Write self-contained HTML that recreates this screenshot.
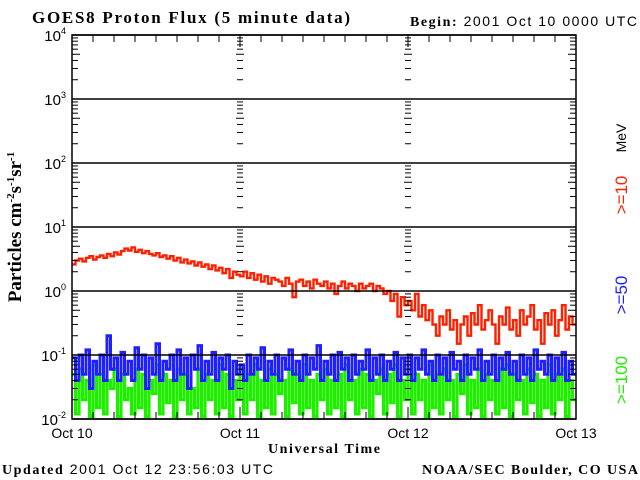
<!DOCTYPE html>
<html><head><meta charset="utf-8"><style>
body{margin:0;background:#fff;}
svg{display:block;font-family:"Liberation Sans",sans-serif;}
.serif{font-family:"Liberation Serif",serif;font-weight:bold;}
</style></head><body>
<svg id="c" width="640" height="480" viewBox="0 0 640 480">
<text class="serif" x="32" y="23" font-size="17" textLength="318" lengthAdjust="spacing">GOES8 Proton Flux (5 minute data)</text>
<text x="410" y="26" font-size="14" textLength="227" lengthAdjust="spacing"><tspan class="serif">Begin:</tspan> 2001 Oct 10 0000 UTC</text>
<text class="serif" x="268" y="453" font-size="14" textLength="112" lengthAdjust="spacing">Universal Time</text>
<text x="2" y="474" font-size="14" textLength="271" lengthAdjust="spacing"><tspan class="serif">Updated</tspan> 2001 Oct 12 23:56:03 UTC</text>
<text class="serif" x="422" y="474" font-size="14" textLength="216" lengthAdjust="spacing">NOAA/SEC Boulder, CO USA</text>
<text class="serif" transform="translate(21,227) rotate(-90)" font-size="19" text-anchor="middle">Particles cm<tspan font-size="11" dy="-7">-2</tspan><tspan dy="7">s</tspan><tspan font-size="11" dy="-7">-1</tspan><tspan dy="7">sr</tspan><tspan font-size="11" dy="-7">-1</tspan></text>
<text transform="translate(626,138) rotate(-90)" font-size="14" text-anchor="middle" fill="#000">MeV</text>
<text transform="translate(627,195) rotate(-90)" font-size="17" text-anchor="middle" fill="#ff2000">&gt;=10</text>
<text transform="translate(627,295) rotate(-90)" font-size="17" text-anchor="middle" fill="#2020ff">&gt;=50</text>
<text transform="translate(627,380) rotate(-90)" font-size="17" text-anchor="middle" fill="#20ee00">&gt;=100</text>
<g id="plot"></g>
</svg>
<script>
const dayLabels=["Oct 10","Oct 11","Oct 12","Oct 13"];
const decades=[-2,-1,0,1,2,3,4];
const red=[2.6,3.0,3.2,2.9,3.3,3.5,3.1,3.4,3.6,3.3,3.8,3.5,4.0,3.7,4.2,4.6,4.3,4.8,4.1,4.4,3.9,4.2,3.8,3.6,3.9,3.4,3.6,3.2,3.5,3.0,3.3,2.8,3.1,2.7,2.9,2.5,2.8,2.4,2.6,2.2,2.5,2.1,2.3,1.9,2.2,1.6,2.0,1.8,
1.7,2.0,1.6,1.9,1.5,1.8,1.4,1.7,1.3,1.6,1.5,1.4,1.2,1.6,1.3,0.8,1.4,1.5,1.2,1.4,1.1,1.5,1.3,1.2,1.4,1.1,1.3,0.9,1.2,1.4,1.1,1.3,1.2,1.0,1.3,1.1,1.2,1.3,1.0,1.2,1.1,0.9,1.0,0.7,0.9,0.4,0.8,0.6,
0.7,0.5,0.9,0.4,0.6,0.35,0.5,0.3,0.2,0.4,0.3,0.5,0.25,0.35,0.15,0.3,0.4,0.2,0.45,0.3,0.6,0.25,0.35,0.5,0.3,0.15,0.4,0.3,0.55,0.25,0.35,0.2,0.5,0.3,0.4,0.6,0.25,0.35,0.15,0.45,0.3,0.5,0.2,0.35,0.6,0.25,0.4,0.3];
const blue=[0.09,0.04,0.1,0.05,0.12,0.03,0.08,0.05,0.1,0.04,0.2,0.06,0.09,0.04,0.11,0.05,0.08,0.04,0.13,0.06,0.1,0.03,0.09,0.05,0.15,0.04,0.08,0.06,0.1,0.04,0.12,0.05,0.09,0.03,0.1,0.06,0.14,0.04,0.08,0.05,0.11,0.04,0.09,0.06,0.1,0.03,0.08,0.05,
0.07,0.04,0.1,0.05,0.09,0.06,0.13,0.04,0.08,0.05,0.1,0.04,0.09,0.06,0.12,0.05,0.08,0.04,0.1,0.05,0.09,0.06,0.14,0.04,0.08,0.05,0.1,0.04,0.11,0.06,0.09,0.04,0.1,0.05,0.08,0.06,0.12,0.04,0.09,0.05,0.1,0.04,0.08,0.06,0.11,0.04,0.09,0.05,
0.1,0.04,0.09,0.06,0.12,0.05,0.08,0.04,0.1,0.05,0.09,0.04,0.11,0.06,0.08,0.04,0.1,0.05,0.09,0.06,0.12,0.04,0.08,0.05,0.1,0.04,0.09,0.06,0.11,0.05,0.08,0.04,0.1,0.05,0.09,0.04,0.12,0.06,0.08,0.05,0.1,0.04,0.09,0.05,0.11,0.04,0.08,0.05];
const green=[0.05,0.012,0.06,0.02,0.04,0.011,0.07,0.015,0.05,0.012,0.04,0.03,0.06,0.011,0.05,0.02,0.03,0.012,0.06,0.015,0.05,0.011,0.04,0.025,0.07,0.012,0.05,0.018,0.04,0.011,0.06,0.02,0.05,0.012,0.03,0.015,0.06,0.011,0.05,0.02,0.04,0.012,0.07,0.015,0.05,0.011,0.04,0.02,
0.06,0.012,0.05,0.02,0.07,0.011,0.04,0.015,0.06,0.012,0.05,0.025,0.04,0.011,0.06,0.018,0.05,0.012,0.07,0.015,0.04,0.011,0.05,0.02,0.06,0.012,0.04,0.015,0.05,0.011,0.07,0.02,0.04,0.012,0.06,0.015,0.05,0.011,0.04,0.025,0.06,0.012,0.05,0.018,0.07,0.011,0.04,0.02,
0.06,0.012,0.05,0.02,0.04,0.011,0.07,0.015,0.05,0.012,0.06,0.02,0.04,0.011,0.05,0.025,0.07,0.012,0.04,0.015,0.06,0.011,0.05,0.02,0.04,0.012,0.06,0.015,0.07,0.011,0.05,0.02,0.04,0.012,0.06,0.018,0.05,0.011,0.04,0.015,0.07,0.012,0.05,0.02,0.06,0.011,0.04,0.02];

const L=72,R=576,T=35,B=419,NS="http://www.w3.org/2000/svg";
const xDay=d=>L+(R-L)*d/3;
const yVal=v=>B-(B-T)*(Math.log10(v)+2)/6;
const g=document.getElementById('plot');
function mk(tag,attrs){const e=document.createElementNS(NS,tag);for(const k in attrs)e.setAttribute(k,attrs[k]);g.appendChild(e);return e;}
function series(arr,color,name,w){
  let d="";const n=arr.length;
  arr.forEach((v,i)=>{const x0=xDay(3*i/n),x1=xDay(3*(i+1)/n),y=yVal(v);d+=(i?"L":"M")+x0.toFixed(1)+","+y.toFixed(1)+"L"+x1.toFixed(1)+","+y.toFixed(1);});
  const p=mk('path',{d:d,fill:'none',stroke:color,'stroke-width':w});
  
  
}
series(green,'#20ee00','series-ge100',3.2);
series(blue,'#2020ff','series-ge50',3);
series(red,'#ff2000','series-ge10',2.4);
decades.forEach(k=>{
  const y=yVal(Math.pow(10,k));
  const ln=mk('line',{x1:L,x2:R,y1:y,y2:y,stroke:'#000','stroke-width':1.5});
  
  
  const t=mk('text',{x:L-6,y:y+6,'font-size':15,'text-anchor':'end'});
  
  
  t.innerHTML='10<tspan font-size="9" dy="-7">'+k+'</tspan>';
  if(k<4){for(let m=2;m<=9;m++){const ym=yVal(m*Math.pow(10,k));const len=(m===5)?8:6;
    mk('line',{x1:L,x2:L+len,y1:ym,y2:ym,stroke:'#000','stroke-width':1});
    mk('line',{x1:R-len,x2:R,y1:ym,y2:ym,stroke:'#000','stroke-width':1});
    [xDay(1),xDay(2)].forEach(x=>{mk('line',{x1:x-(m===5?4:3),x2:x+(m===5?4:3),y1:ym,y2:ym,stroke:'#000','stroke-width':1});});}}
});
const frame=mk('rect',{x:L,y:T,width:R-L,height:B-T,fill:'none',stroke:'#000','stroke-width':1.5});


for(let h=1;h<24;h++){const x=xDay(h/8);if(h%8===0)continue;
  mk('line',{x1:x,x2:x,y1:B,y2:B-7,stroke:'#000'});mk('line',{x1:x,x2:x,y1:T,y2:T+7,stroke:'#000'});}
[1,2].forEach(d=>{const x=xDay(d);mk('line',{x1:x,x2:x,y1:B,y2:B-12,stroke:'#000'});mk('line',{x1:x,x2:x,y1:T,y2:T+12,stroke:'#000'});});
dayLabels.forEach((s,i)=>{const t=mk('text',{x:xDay(i),y:438,'font-size':14,'text-anchor':'middle'});t.textContent=s;
  
  });
</script>
</body></html>
